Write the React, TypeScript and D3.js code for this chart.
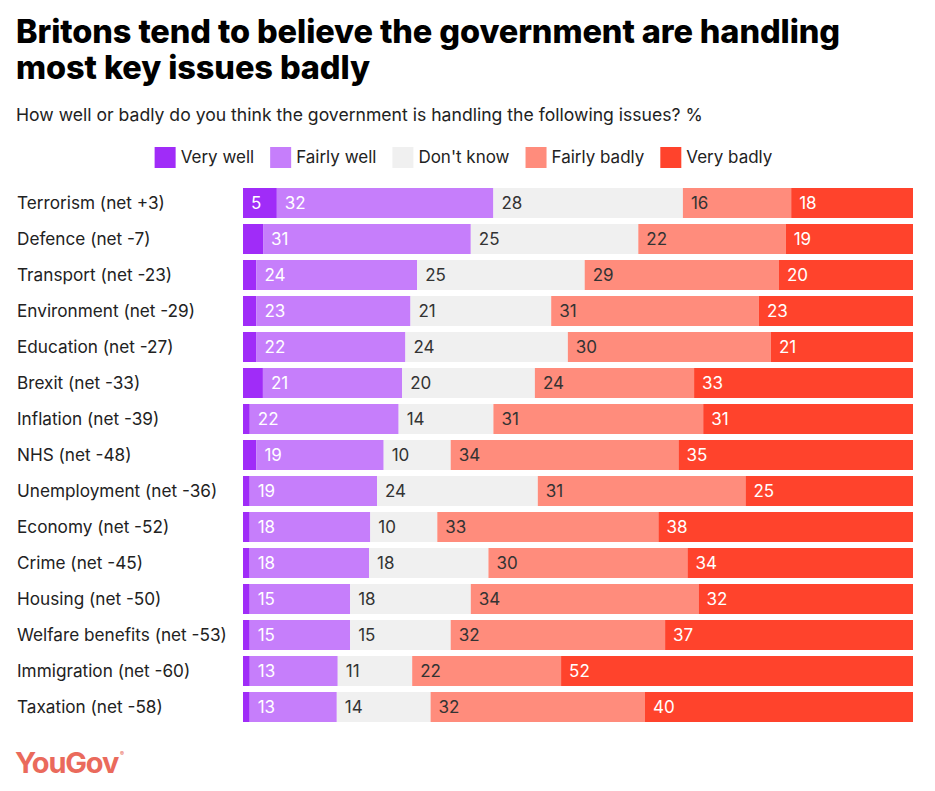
import React, { useEffect, useRef } from "react";
import * as d3 from "d3";

const categories = [
  "Terrorism", "Defence", "Transport", "Environment", "Education", "Brexit", "Inflation", "NHS",
  "Unemployment", "Economy", "Crime", "Housing", "Welfare benefits", "Immigration", "Taxation",
];
const nets = ["+3", "-7", "-23", "-29", "-27", "-33", "-39", "-48", "-36", "-52", "-45", "-50", "-53", "-60", "-58"];

const veryWell = [5, 3, 2, 2, 2, 3, 1, 2, 1, 1, 1, 1, 1, 1, 1];
const fairlyWell = [32, 31, 24, 23, 22, 21, 22, 19, 19, 18, 18, 15, 15, 13, 13];
const dontKnow = [28, 25, 25, 21, 24, 20, 14, 10, 24, 10, 18, 18, 15, 11, 14];
const fairlyBadly = [16, 22, 29, 31, 30, 24, 31, 34, 31, 33, 30, 34, 32, 22, 32];
const veryBadly = [18, 19, 20, 23, 21, 33, 31, 35, 25, 38, 34, 32, 37, 52, 40];

const seriesNames = ["Very well", "Fairly well", "Don't know", "Fairly badly", "Very badly"];
const seriesValues = [veryWell, fairlyWell, dontKnow, fairlyBadly, veryBadly];
const seriesColors = ["#a02cf8", "#c67efb", "#f0f0f0", "#ff8c7c", "#ff432c"];
const labelColors = ["#ffffff", "#ffffff", "#333333", "#333333", "#ffffff"];

const W = 935;
const H = 791;
const FONT = "Inter, 'Open Sans', sans-serif";

export default function App() {
  const ref = useRef<SVGSVGElement>(null);

  useEffect(() => {
    const svg = d3.select(ref.current);
    svg.selectAll("*").remove();

    svg.append("rect").attr("width", W).attr("height", H).attr("fill", "#fff");

    // title + subtitle
    const title = svg.append("text")
      .attr("font-family", FONT)
      .attr("font-weight", 800)
      .attr("font-size", 32.5)
      .attr("letter-spacing", -0.1)
      .attr("fill", "#000");
    title.append("tspan").attr("x", 16).attr("y", 43).text("Britons tend to believe the government are handling");
    title.append("tspan").attr("x", 16).attr("y", 79).text("most key issues badly");

    svg.append("text")
      .attr("x", 16).attr("y", 121)
      .attr("font-family", FONT)
      .attr("font-size", 17.6)
      .attr("fill", "#222")
      .text("How well or badly do you think the government is handling the following issues? %");

    // legend, laid out from measured text widths and centred
    const legend = svg.append("g");
    let lx = 0;
    seriesNames.forEach((name, i) => {
      const g = legend.append("g").attr("transform", `translate(${lx},0)`);
      g.append("rect").attr("x", 0).attr("y", 147).attr("width", 21).attr("height", 21).attr("fill", seriesColors[i]);
      const t = g.append("text")
        .attr("x", 26).attr("y", 163)
        .attr("font-family", FONT)
        .attr("font-size", 17)
        .attr("fill", "#222")
        .text(name);
      const tw = (t.node() as SVGTextElement).getComputedTextLength();
      lx += 26 + tw + 16;
    });
    const legendW = lx - 16;
    legend.attr("transform", `translate(${(W - legendW) / 2 - 4},0)`);

    // bars
    const left = 243;
    const right = 913;
    const y = d3.scaleBand<string>()
      .domain(categories)
      .range([188, 722])
      .paddingInner(6 / 36)
      .paddingOuter(0);

    categories.forEach((cat, r) => {
      const vals = seriesValues.map(s => s[r]);
      const total = d3.sum(vals);
      const x = d3.scaleLinear().domain([0, total]).range([left, right]);
      const yTop = y(cat) as number;
      const bh = y.bandwidth();
      const cy = yTop + bh / 2;

      svg.append("text")
        .attr("x", 17).attr("y", cy + 6)
        .attr("font-family", FONT)
        .attr("font-size", 17.2)
        .attr("fill", "#222")
        .text(`${cat} (net ${nets[r]})`);

      let acc = 0;
      vals.forEach((v, i) => {
        const x0 = x(acc);
        const x1 = x(acc + v);
        svg.append("rect")
          .attr("x", x0).attr("y", yTop)
          .attr("width", x1 - x0).attr("height", bh)
          .attr("fill", seriesColors[i]);
        if (v >= 5) {
          svg.append("text")
            .attr("x", x0 + 8).attr("y", cy + 6)
            .attr("font-family", FONT)
            .attr("font-size", 17)
            .attr("fill", labelColors[i])
            .text(v);
        }
        acc += v;
      });
    });

    // logo
    const logo = svg.append("text")
      .attr("x", 15).attr("y", 773)
      .attr("font-family", FONT)
      .attr("font-weight", 700)
      .attr("font-size", 29)
      .attr("letter-spacing", -1.2)
      .attr("fill", "#ea6a5c");
    logo.append("tspan").text("YouGov");
    logo.append("tspan").attr("font-size", 6).attr("dy", -17).attr("dx", 2).text("®");
  }, []);

  return (
    <svg
      ref={ref}
      width={W}
      height={H}
      viewBox={`0 0 ${W} ${H}`}
      style={{ position: "absolute", left: 0, top: 0 }}
    />
  );
}
